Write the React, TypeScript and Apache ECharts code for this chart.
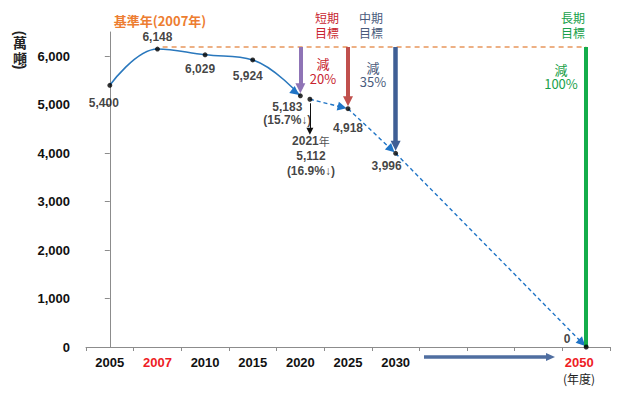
import React, { useEffect, useRef } from 'react';
import * as echarts from 'echarts';

// ---- data ----
const categories = ['2005', '2007', '2010', '2015', '2020', '2025', '2030', '', '', '', '2050'];
const slotYears = [2005, 2007, 2010, 2015, 2020, 2025, 2030, 2035, 2040, 2045, 2050];
const redCategories = ['2007', '2050'];
const histYears = [2005, 2007, 2010, 2015, 2020];
const histValues = [5400, 6148, 6029, 5924, 5183];
const projYears = [2021, 2025, 2030, 2050];
const projValues = [5112, 4918, 3996, 0];
const yTicks = [0, 1000, 2000, 3000, 4000, 5000, 6000];
const baseYear = 2007;
const baseLevel = 6190; // drawn level of the 2007 baseline
const reductionNotes: Record<number, string> = { 2020: '(15.7%↓)', 2021: '(16.9%↓)' };
const targetYears = [2020, 2025, 2030, 2050];
const targetValues = [5183, 4918, 3996, 0];
const targetColors = ['#8f74b6', '#c0504d', '#3f5f95', '#14ad4b'];

// ---- style ----
const FONT = '"Liberation Sans", Arial, "Noto Sans CJK TC", sans-serif';
const CJK = '"Noto Sans CJK TC", "Liberation Sans", sans-serif';
const LINE_BLUE = '#2a78bd';
const labelOffsets: Record<number, number[]> = {
  2005: [-6, 18], 2007: [0, -12], 2010: [-5, 14], 2015: [-5, 16], 2020: [-13, 18],
  2021: [1, 57], 2025: [0, 19], 2030: [-9, 13], 2050: [-19, -8],
};

function xPos(year: number): number {
  for (let i = 0; i < slotYears.length - 1; i++) {
    if (year >= slotYears[i] && year <= slotYears[i + 1]) {
      return i + (year - slotYears[i]) / (slotYears[i + 1] - slotYears[i]);
    }
  }
  return slotYears.length - 1;
}
const fmt = (v: number) => v.toLocaleString('en-US');

function labelText(year: number, v: number): string {
  if (year === 2021) return `2021{n|年}\n${fmt(v)}\n${reductionNotes[2021]}`;
  if (reductionNotes[year]) return `${fmt(v)}\n${reductionNotes[year]}`;
  return fmt(v);
}

export default function App() {
  const ref = useRef<HTMLDivElement>(null);
  useEffect(() => {
    if (!ref.current) return;
    const chart = echarts.init(ref.current, undefined, { renderer: 'svg' });

    const allYears = [...histYears, ...projYears];
    const allValues = [...histValues, ...projValues];
    const dots = allYears.map((y, i) => ({
      value: [xPos(y), allValues[i]],
      label: {
        show: true,
        position: 'inside',
        offset: labelOffsets[y] || [0, 0],
        formatter: labelText(y, allValues[i]),
        lineHeight: y === 2021 ? 15 : 13,
      },
    }));

    const buildOption = (extra: any[]) => ({
      animation: false,
      backgroundColor: '#fff',
      grid: { left: 86, right: 17, top: 32, bottom: 47, containLabel: false },
      xAxis: [
        {
          type: 'category',
          data: categories.map((c) =>
            redCategories.includes(c)
              ? { value: c, textStyle: { color: '#ee1c25', padding: c === '2050' ? [0, 14, 0, 0] : 0 } }
              : c
          ),
          boundaryGap: true,
          axisLine: { lineStyle: { color: '#8c8c8c', width: 1 } },
          axisTick: { show: true, interval: 0, length: 4, lineStyle: { color: '#8c8c8c' } },
          axisLabel: { interval: 0, fontSize: 13, fontWeight: 'bold', color: '#111', fontFamily: FONT, margin: 9 },
          splitLine: { show: false },
        },
        { type: 'value', min: -0.5, max: 10.5, show: false },
      ],
      yAxis: {
        type: 'value',
        min: 0,
        max: 6500,
        interval: 1000,
        axisLine: { show: true, lineStyle: { color: '#8c8c8c', width: 1 } },
        axisTick: { show: true, length: 5, lineStyle: { color: '#8c8c8c' }, customValues: yTicks },
        axisLabel: {
          fontSize: 13, fontWeight: 'bold', color: '#111', fontFamily: FONT, margin: 16,
          customValues: yTicks,
          formatter: (v: number) => (v > 6000 ? '' : fmt(v)),
        },
        splitLine: { show: false },
      },
      graphic: [
        { type: 'text', x: 160, y: 20, style: { text: '基準年(2007年)', align: 'center', verticalAlign: 'middle', fill: '#ed7d31', fontSize: 13, fontWeight: 'bold', fontFamily: CJK } },
        { type: 'text', x: 327, y: 25, style: { text: '短期\n目標', align: 'center', verticalAlign: 'middle', fill: '#c8242f', fontSize: 12, lineHeight: 15, fontFamily: CJK } },
        { type: 'text', x: 371, y: 25, style: { text: '中期\n目標', align: 'center', verticalAlign: 'middle', fill: '#4a5b7c', fontSize: 12, lineHeight: 15, fontFamily: CJK } },
        { type: 'text', x: 573, y: 25, style: { text: '長期\n目標', align: 'center', verticalAlign: 'middle', fill: '#17a04a', fontSize: 12, lineHeight: 15, fontFamily: CJK } },
        { type: 'text', x: 323, y: 71, style: { text: '減\n20%', align: 'center', verticalAlign: 'middle', fill: '#c8242f', fontSize: 13, lineHeight: 15, fontFamily: CJK } },
        { type: 'text', x: 373, y: 74, style: { text: '減\n35%', align: 'center', verticalAlign: 'middle', fill: '#4a5b7c', fontSize: 13, lineHeight: 14, fontFamily: CJK } },
        { type: 'text', x: 561, y: 76, style: { text: '減\n100%', align: 'center', verticalAlign: 'middle', fill: '#17a04a', fontSize: 13, lineHeight: 14, fontFamily: CJK } },
        { type: 'text', x: 20, y: 33, rotation: -Math.PI / 2, style: { text: '(', align: 'center', verticalAlign: 'middle', fill: '#222', fontSize: 14, fontWeight: 'bold', fontFamily: FONT } },
        { type: 'text', x: 20, y: 49.5, style: { text: '萬\n噸', align: 'center', verticalAlign: 'middle', fill: '#222', fontSize: 14, lineHeight: 16, fontWeight: 'bold', fontFamily: CJK } },
        { type: 'text', x: 20, y: 67, rotation: -Math.PI / 2, style: { text: ')', align: 'center', verticalAlign: 'middle', fill: '#222', fontSize: 14, fontWeight: 'bold', fontFamily: FONT } },
        { type: 'text', x: 579, y: 378, style: { text: '(年度)', align: 'center', verticalAlign: 'middle', fill: '#222', fontSize: 12, fontFamily: CJK } },
        { type: 'line', shape: { x1: 424, y1: 357, x2: 548, y2: 357 }, style: { stroke: '#4f6ea0', lineWidth: 3.5 } },
        { type: 'polygon', shape: { points: [[546, 353], [555, 357], [546, 361]] }, style: { fill: '#4f6ea0' } },
      ],
      series: [
        {
          type: 'line',
          xAxisIndex: 1,
          data: histYears.map((y, i) => [xPos(y), histValues[i]]),
          smooth: 0.4,
          showSymbol: false,
          lineStyle: { color: LINE_BLUE, width: 1.6 },
          z: 2,
          silent: true,
        },
        ...extra,
        {
          type: 'scatter',
          xAxisIndex: 1,
          data: dots,
          symbol: 'circle',
          symbolSize: 5,
          itemStyle: { color: '#000' },
          label: { color: '#111', fontSize: 12, fontWeight: 'bold', fontFamily: FONT, rich: { n: { fontSize: 11, fontWeight: 'normal', color: '#222', fontFamily: CJK, lineHeight: 15 } } },
          z: 10,
          silent: true,
        },
      ],
    });

    chart.setOption(buildOption([]));
    const scatterIdx = 1;
    const toPx = (p: number[]) => chart.convertToPixel({ seriesIndex: scatterIdx }, p) as number[];
    const fromPx = (p: number[]) => chart.convertFromPixel({ seriesIndex: scatterIdx }, p) as number[];
    const backoff = (p0: number[], p1: number[], px: number) => {
      const a = toPx(p0), b = toPx(p1);
      const dx = b[0] - a[0], dy = b[1] - a[1];
      const L = Math.hypot(dx, dy);
      const t = 1 - px / L;
      return fromPx([a[0] + dx * t, a[1] + dy * t]);
    };
    const along = (p0: number[], p1: number[], t: number) => {
      const a = toPx(p0), b = toPx(p1);
      return fromPx([a[0] + (b[0] - a[0]) * t, a[1] + (b[1] - a[1]) * t]);
    };

    const baseX = xPos(baseYear);
    const greenX = xPos(targetYears[3]);
    const extra: any[] = [];

    // baseline dashed orange
    extra.push({
      type: 'lines', coordinateSystem: 'cartesian2d', xAxisIndex: 1, yAxisIndex: 0, silent: true, z: 1,
      symbol: 'none',
      lineStyle: { color: '#e8965c', width: 1.5, type: [5, 4], opacity: 1 },
      data: [{ coords: [along([baseX, baseLevel], [greenX, baseLevel], 0.012), [greenX, baseLevel]] }],
    });

    // arrow at the end of the historical curve
    const h3 = [xPos(histYears[3]), histValues[3]];
    const h4 = [xPos(histYears[4]), histValues[4]];
    extra.push({
      type: 'lines', coordinateSystem: 'cartesian2d', xAxisIndex: 1, yAxisIndex: 0, silent: true, z: 4,
      symbol: ['none', 'triangle'], symbolSize: 9,
      lineStyle: { color: '#1f74c6', width: 1, opacity: 1 },
      data: [{ coords: [along(h3, h4, 0.85), backoff(h3, h4, 6)] }],
    });

    // projected dashed segments with arrows
    const proj = projYears.map((y, i) => [xPos(y), projValues[i]]);
    const segs = [];
    for (let i = 0; i < proj.length - 1; i++) {
      segs.push({ coords: [proj[i], backoff(proj[i], proj[i + 1], 6)] });
    }
    extra.push({
      type: 'lines', coordinateSystem: 'cartesian2d', xAxisIndex: 1, yAxisIndex: 0, silent: true, z: 4,
      symbol: ['none', 'triangle'], symbolSize: 9,
      lineStyle: { color: '#1f74c6', width: 1.4, type: [4, 3], opacity: 1 },
      data: segs,
    });

    // target arrows
    targetYears.forEach((y, i) => {
      const x = xPos(y);
      const hasArrow = i < 3;
      const end = hasArrow ? backoff([x, baseLevel], [x, targetValues[i]], 7.5) : [x, targetValues[i]];
      extra.push({
        type: 'lines', coordinateSystem: 'cartesian2d', xAxisIndex: 1, yAxisIndex: 0, silent: true, z: 5,
        symbol: hasArrow ? ['none', 'triangle'] : 'none', symbolSize: [11, 10],
        lineStyle: { color: targetColors[i], width: i === 2 ? 4.5 : 4, opacity: 1 },
        data: [{ coords: [[x, baseLevel], end] }],
      });
    });

    // 2021 small black arrow
    const p21 = proj[0];
    const p21px = toPx(p21);
    extra.push({
      type: 'lines', coordinateSystem: 'cartesian2d', xAxisIndex: 1, yAxisIndex: 0, silent: true, z: 6,
      symbol: ['none', 'triangle'], symbolSize: [5, 7],
      lineStyle: { color: '#111', width: 1, opacity: 1 },
      data: [{ coords: [fromPx([p21px[0], p21px[1] + 4]), fromPx([p21px[0], p21px[1] + 32])] }],
    });

    chart.setOption(buildOption(extra), true);
    return () => chart.dispose();
  }, []);

  return <div ref={ref} style={{ position: 'fixed', left: 0, top: 0, width: 627, height: 394, background: '#fff' }} />;
}
